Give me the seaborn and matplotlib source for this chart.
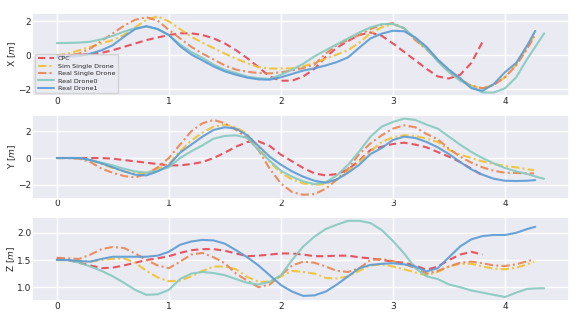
import numpy as np
import seaborn as sns
import matplotlib
matplotlib.use("Agg")
import matplotlib.pyplot as plt

# -------------------------------
# Data
# -------------------------------
T_CPC = [round(0.1 * i, 2) for i in range(39)]          # 0.0 .. 3.8
T_REAL = [round(0.1 * i, 2) for i in range(43)] + [4.26]  # 0.0 .. 4.2, end
T_D1 = [round(0.1 * i, 2) for i in range(43)] + [4.27]
T_D0 = [round(0.1 * i, 2) for i in range(44)] + [4.35]   # 0.0 .. 4.3, end

LABELS = ["CPC", "Sim Single Drone", "Real Single Drone", "Real Drone0", "Real Drone1"]

X_CPC = [0.0, 0.0, 0.02, 0.08, 0.15, 0.3, 0.5, 0.7, 0.9, 1.05, 1.2, 1.3, 1.3, 1.2, 1.0,
         0.7, 0.3, -0.17, -0.7, -1.25, -1.5, -1.5, -1.25, -0.8, -0.1, 0.45, 0.85, 1.2,
         1.35, 1.15, 0.7, 0.2, -0.3, -0.8, -1.25, -1.37, -1.15, -0.45, 0.8]
X_SIM = [0.0, 0.1, 0.3, 0.5, 0.7, 0.9, 1.2, 1.65, 2.1, 2.3, 2.0, 1.55, 1.1, 0.75, 0.42,
         0.1, -0.2, -0.47, -0.7, -0.78, -0.78, -0.77, -0.65, -0.45, -0.2, 0.05, 0.3,
         0.75, 1.3, 1.65, 1.85, 1.6, 0.9, 0.4, -0.25, -0.9, -1.4, -1.8, -1.95, -1.75,
         -1.3, -0.55, 0.5, 1.14]
X_REAL = [0.0, 0.02, 0.1, 0.4, 0.85, 1.3, 1.75, 2.1, 2.25, 2.05, 1.5, 1.0, 0.5, 0.1,
          -0.25, -0.6, -0.85, -0.97, -1.05, -1.07, -1.0, -0.9, -0.75, -0.55, 0.1, 0.6,
          0.9, 1.2, 1.55, 1.8, 1.9, 1.6, 0.9, 0.35, -0.3, -0.95, -1.45, -1.8, -1.95,
          -1.75, -1.3, -0.6, 0.4, 1.1]
X_D0 = [0.72, 0.73, 0.75, 0.8, 0.95, 1.15, 1.4, 1.6, 1.7, 1.55, 1.2, 0.64, 0.2, -0.15,
        -0.55, -0.85, -1.05, -1.26, -1.35, -1.4, -1.15, -0.85, -0.5, -0.06, 0.3, 0.65,
        1.0, 1.35, 1.65, 1.84, 1.85, 1.6, 1.0, 0.4, -0.36, -1.0, -1.5, -1.85, -2.2,
        -2.2, -1.95, -1.3, -0.2, 0.8, 1.3]
X_D1 = [-0.1, -0.1, -0.05, 0.1, 0.3, 0.6, 1.1, 1.55, 1.72, 1.55, 1.2, 0.54, 0.05, -0.3,
        -0.66, -0.95, -1.15, -1.32, -1.42, -1.44, -1.3, -1.1, -0.9, -0.77, -0.6, -0.4,
        -0.12, 0.45, 1.0, 1.28, 1.45, 1.42, 1.05, 0.5, -0.25, -0.85, -1.35, -1.95,
        -2.1, -1.7, -1.0, -0.45, 0.6, 1.44]

Y_CPC = [0.0, 0.0, 0.0, 0.0, 0.0, -0.05, -0.15, -0.25, -0.35, -0.45, -0.55, -0.55, -0.45,
         -0.3, 0.0, 0.4, 0.85, 1.2, 1.25, 0.9, 0.25, -0.25, -0.75, -1.15, -1.3, -1.2,
         -0.85, -0.2, 0.6, 0.85, 1.05, 1.15, 1.0, 0.8, 0.45, 0.1, -0.3, -0.8, -1.3]
Y_SIM = [0.0, 0.0, -0.02, -0.15, -0.45, -0.75, -1.0, -1.15, -1.1, -0.8, -0.45, 0.5, 1.3,
         1.9, 2.35, 2.5, 2.3, 1.8, 0.8, -0.3, -1.1, -1.6, -1.9, -2.0, -1.95, -1.6, -1.0,
         -0.3, 0.5, 1.2, 1.55, 1.7, 1.65, 1.45, 1.2, 0.6, 0.25, 0.0, -0.25, -0.45, -0.6,
         -0.7, -0.85, -0.9]
Y_REAL = [0.0, 0.0, -0.05, -0.3, -0.8, -1.1, -1.35, -1.45, -1.2, -0.7, 0.0, 1.0, 2.0, 2.6,
          2.85, 2.6, 2.1, 1.5, 0.6, -0.8, -1.9, -2.55, -2.75, -2.7, -2.3, -1.6, -0.8, 0.3,
          1.1, 1.7, 2.2, 2.45, 2.3, 1.8, 1.4, 0.7, 0.1, -0.35, -0.7, -0.95, -1.1, -1.12,
          -1.15, -1.15]
Y_D0 = [0.0, 0.0, 0.0, -0.15, -0.35, -0.55, -0.8, -1.0, -1.1, -0.95, -0.7, 0.0, 0.5, 0.95,
        1.45, 1.65, 1.7, 1.5, 0.6, -0.2, -0.95, -1.4, -1.75, -1.95, -1.8, -1.3, -0.5, 0.5,
        1.6, 2.35, 2.7, 2.95, 2.85, 2.5, 2.2, 1.6, 1.0, 0.45, 0.0, -0.4, -0.75, -1.0, -1.2,
        -1.45, -1.55]
Y_D1 = [0.0, 0.0, 0.0, -0.15, -0.4, -0.7, -1.0, -1.25, -1.3, -1.0, -0.55, 0.4, 1.0, 1.6,
        2.1, 2.3, 2.2, 1.7, 0.9, 0.1, -0.5, -1.0, -1.4, -1.7, -1.85, -1.6, -1.1, -0.5, 0.3,
        0.75, 1.35, 1.6, 1.5, 1.2, 0.8, 0.3, -0.3, -0.85, -1.25, -1.55, -1.7, -1.72, -1.7,
        -1.65]

Z_CPC = [1.54, 1.5, 1.45, 1.4, 1.35, 1.36, 1.4, 1.45, 1.5, 1.53, 1.57, 1.63, 1.68, 1.7,
         1.7, 1.67, 1.62, 1.57, 1.58, 1.6, 1.62, 1.62, 1.6, 1.57, 1.57, 1.58, 1.58, 1.55,
         1.53, 1.5, 1.47, 1.45, 1.4, 1.32, 1.38, 1.5, 1.6, 1.65, 1.6]
Z_SIM = [1.5, 1.5, 1.48, 1.47, 1.5, 1.52, 1.53, 1.45, 1.3, 1.18, 1.11, 1.12, 1.2, 1.3,
         1.38, 1.38, 1.33, 1.19, 1.1, 1.1, 1.2, 1.3, 1.28, 1.25, 1.17, 1.16, 1.2, 1.3,
         1.4, 1.42, 1.38, 1.33, 1.27, 1.22, 1.28, 1.38, 1.43, 1.43, 1.38, 1.34, 1.33,
         1.36, 1.42, 1.47]
Z_REAL = [1.54, 1.53, 1.52, 1.6, 1.7, 1.74, 1.72, 1.62, 1.5, 1.4, 1.35, 1.47, 1.6, 1.63,
          1.55, 1.44, 1.25, 1.12, 1.0, 1.05, 1.22, 1.4, 1.47, 1.45, 1.38, 1.3, 1.28, 1.35,
          1.5, 1.52, 1.48, 1.43, 1.35, 1.25, 1.3, 1.38, 1.45, 1.47, 1.44, 1.4, 1.39,
          1.42, 1.48, 1.51]
Z_D0 = [1.5, 1.5, 1.45, 1.38, 1.3, 1.2, 1.08, 0.95, 0.86, 0.87, 0.95, 1.15, 1.25, 1.28,
        1.26, 1.22, 1.15, 1.08, 1.05, 1.1, 1.22, 1.5, 1.75, 1.93, 2.07, 2.15, 2.22, 2.22,
        2.18, 2.05, 1.85, 1.62, 1.35, 1.2, 1.15, 1.05, 1.0, 0.94, 0.9, 0.86, 0.82, 0.9,
        0.97, 0.98, 0.98]
Z_D1 = [1.5, 1.5, 1.48, 1.47, 1.52, 1.56, 1.56, 1.56, 1.56, 1.58, 1.65, 1.78, 1.84, 1.87,
        1.86, 1.8, 1.68, 1.55, 1.4, 1.22, 1.04, 0.92, 0.84, 0.85, 0.92, 1.05, 1.2, 1.35,
        1.41, 1.43, 1.44, 1.42, 1.38, 1.29, 1.35, 1.55, 1.75, 1.88, 1.94, 1.96, 1.96,
        2.0, 2.07, 2.11]

# -------------------------------
# Styling
# -------------------------------
COLORS = ["#e8434f", "#f2c12e", "#ea8450", "#84c9bf", "#5a9bd5"]
STYLES = [(0, (3.5, 2)), (0, (4, 1.5, 1, 1.5)), (0, (4, 1.5, 1, 1.5)), "-", "-"]
TIMES = [T_CPC, T_REAL, T_REAL, T_D0, T_D1]

panels = [
    ("X [$m$]", [X_CPC, X_SIM, X_REAL, X_D0, X_D1]),
    ("Y [$m$]", [Y_CPC, Y_SIM, Y_REAL, Y_D0, Y_D1]),
    ("Z [$m$]", [Z_CPC, Z_SIM, Z_REAL, Z_D0, Z_D1]),
]

sns.set_theme(style="darkgrid")
plt.rcParams["font.family"] = ["DejaVu Sans"]

fig, axes = plt.subplots(3, 1, figsize=(5.74, 3.14), dpi=100)
fig.subplots_adjust(left=0.056, right=0.991, top=0.96, bottom=0.042, hspace=0.22)

for ax, (ylabel, series) in zip(axes, panels):
    for t, vals, col, ls, lab in zip(TIMES, series, COLORS, STYLES, LABELS):
        sns.lineplot(x=t, y=vals, ax=ax, color=col, linestyle=ls, linewidth=1.5,
                     label=lab, sort=False, alpha=0.9)
    ax.set_ylabel(ylabel, fontsize=6.5, labelpad=0)
    ax.set_xlim(-0.22, 4.57)
    ax.set_xticks([0, 1, 2, 3, 4])
    ax.tick_params(axis="both", labelsize=6.5, pad=0.5, length=0)
    if ax is axes[0]:
        ax.legend(loc="lower left", fontsize=4.6, handlelength=2.6, borderpad=0.35,
                  labelspacing=0.3, handletextpad=0.6, framealpha=0.8)
    else:
        ax.get_legend().remove()

fig.savefig("out.png", dpi=100)
